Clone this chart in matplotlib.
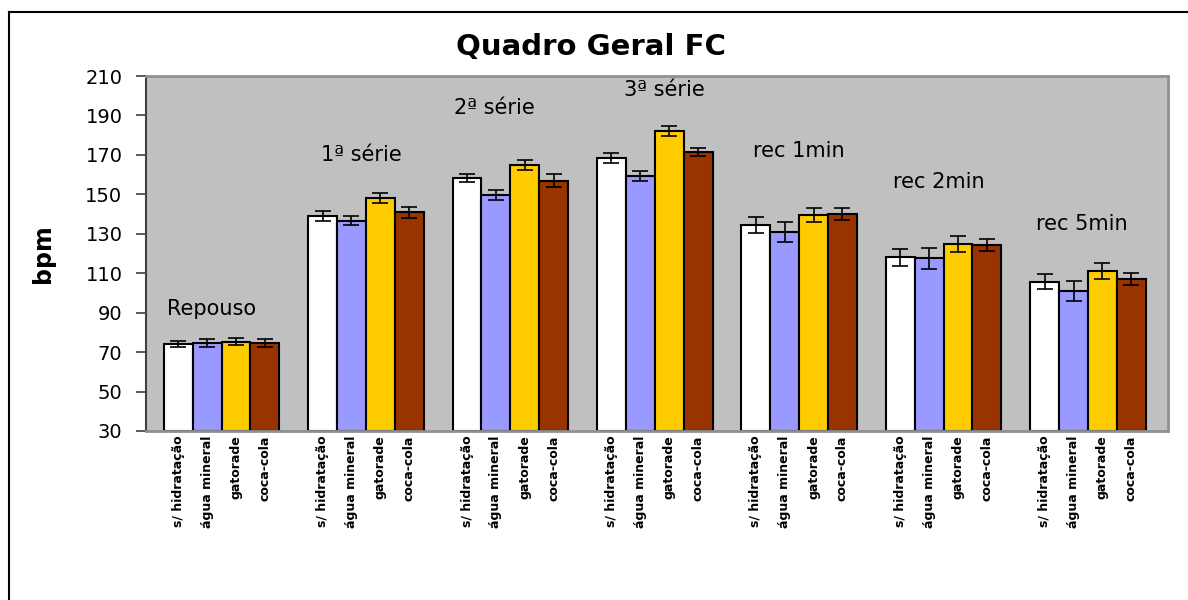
import numpy as np
import matplotlib.pyplot as plt
from matplotlib.lines import Line2D

# dados
grupos = ['Repouso', '1ª série', '2ª série', '3ª série', 'rec 1min', 'rec 2min', 'rec 5min']
bebidas = ['s/ hidratação', 'água mineral', 'gatorade', 'coca-cola']
cores = ['#FFFFFF', '#9999FF', '#FFCC00', '#993300']

sem_hidratacao = [74.0, 139.0, 158.5, 168.5, 134.5, 118.0, 105.7]
agua_mineral = [74.6, 136.5, 149.5, 159.5, 131.0, 117.5, 101.0]
gatorade = [75.2, 148.0, 165.0, 182.0, 139.5, 125.0, 111.0]
coca_cola = [74.5, 141.0, 157.0, 171.5, 140.0, 124.5, 107.2]

erro_sem = [1.5, 2.5, 2.0, 2.5, 4.0, 4.5, 3.9]
erro_agua = [1.8, 2.3, 2.5, 2.5, 5.0, 5.5, 5.2]
erro_gat = [1.8, 2.5, 2.5, 2.5, 3.5, 4.0, 4.0]
erro_coca = [2.0, 2.8, 3.5, 2.0, 3.0, 3.0, 3.0]

series = [sem_hidratacao, agua_mineral, gatorade, coca_cola]
erros = [erro_sem, erro_agua, erro_gat, erro_coca]

# posição dos rótulos dos grupos (em bpm) e deslocamento horizontal
rotulo_y = [92, 170, 194, 203, 172, 156, 135]
rotulo_dx = [-0.066, -0.03, -0.11, 0.07, 0.0, -0.03, -0.04]

fig = plt.figure(figsize=(11.88, 6), dpi=100)
ax = fig.add_axes([146 / 1188, 1 - 431 / 600, (1168 - 146) / 1188, (431 - 76) / 600])
ax.set_facecolor('#C0C0C0')

x = np.arange(len(grupos))
w = 0.2
for j, (vals, errs, cor) in enumerate(zip(series, erros, cores)):
    pos = x + (j - 1.5) * w
    ax.bar(pos, np.array(vals) - 30, bottom=30, width=w, color=cor,
           edgecolor='black', linewidth=1.5, zorder=2)
    ax.errorbar(pos, vals, yerr=errs, fmt='none', ecolor='black',
                elinewidth=1.2, capsize=6, capthick=1.2, zorder=3)

for i, g in enumerate(grupos):
    ax.text(x[i] + rotulo_dx[i], rotulo_y[i], g, ha='center', va='center',
            fontsize=15, family='DejaVu Sans')

ax.set_xlim(-0.523, 6.554)
ax.set_ylim(30, 210)
ax.set_yticks(range(30, 211, 20))
ax.tick_params(axis='y', direction='out', length=7, width=1.2, pad=10,
               labelsize=14, color='#404040')

# um rótulo por barra, na vertical
pos_todas = []
rot_todas = []
for i in range(len(grupos)):
    for j, b in enumerate(bebidas):
        pos_todas.append(x[i] + (j - 1.5) * w)
        rot_todas.append(b)
ax.set_xticks(pos_todas)
ax.set_xticklabels(rot_todas, rotation=90, va='top', ha='center',
                   fontsize=9, fontweight='bold', family='DejaVu Sans')
ax.tick_params(axis='x', length=0, pad=3)

for s in ['top', 'right', 'bottom']:
    ax.spines[s].set_color('#909090')
    ax.spines[s].set_linewidth(2)
ax.spines['left'].set_color('#404040')
ax.spines['left'].set_linewidth(1.5)

ax.set_ylabel('bpm', fontsize=17, fontweight='bold', labelpad=22)
fig.text(591 / 1188, 1 - 47 / 600, 'Quadro Geral FC', ha='center', va='center',
         fontsize=21, fontweight='bold', family='DejaVu Sans')

# moldura do gráfico
fig.add_artist(Line2D([9 / 1188, 9 / 1188], [0, 1 - 12 / 600], color='black', lw=1.5))
fig.add_artist(Line2D([9 / 1188, 1], [1 - 12 / 600, 1 - 12 / 600], color='black', lw=1.5))

fig.savefig('out.png', dpi=100)
